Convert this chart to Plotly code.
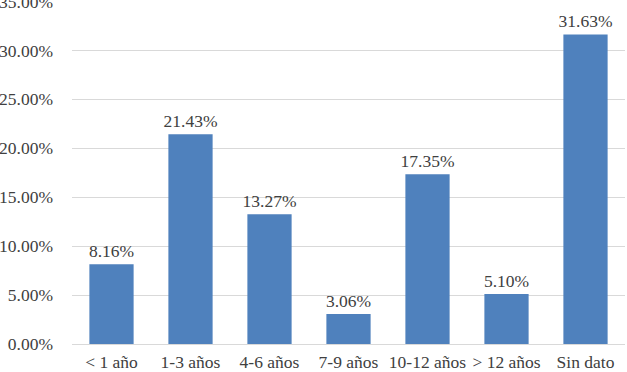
import plotly.graph_objects as go

categories = ["< 1 año", "1-3 años", "4-6 años", "7-9 años", "10-12 años", "> 12 años", "Sin dato"]
values = [8.16, 21.43, 13.27, 3.06, 17.35, 5.10, 31.63]
tick_vals = [0, 5, 10, 15, 20, 25, 30, 35]
tick_text = ["%.2f%%" % v for v in tick_vals]
labels = ["%.2f%%" % v for v in values]

FONT = "Liberation Serif"
FS = 17.5
COL = "#404040"

fig = go.Figure(go.Bar(
    x=categories, y=values, text=labels, textposition="outside",
    constraintext="none",
    marker=dict(color="#4F81BD", line=dict(width=0)),
    textfont=dict(family=FONT, size=FS, color=COL),
    cliponaxis=False,
))
fig.update_layout(
    width=627, height=372,
    margin=dict(l=72, r=2, t=1, b=28),
    paper_bgcolor="white", plot_bgcolor="white",
    bargap=0.44, showlegend=False,
    font=dict(family=FONT, size=FS, color=COL),
    uniformtext=dict(mode=False),
)
fig.update_yaxes(range=[0, 35.05], tickvals=tick_vals, ticktext=tick_text,
                 showgrid=True, gridcolor="#D9D9D9", gridwidth=1,
                 zeroline=False, showline=False, ticks="", ticklabelstandoff=18,
                 ticklabeloverflow="allow", automargin=False,
                 tickfont=dict(family=FONT, size=FS, color=COL))
fig.update_xaxes(showline=True, linecolor="#D9D9D9", linewidth=1, ticks="",
                 automargin=False, ticklabeloverflow="allow", ticklabelstandoff=2,
                 tickfont=dict(family=FONT, size=FS, color=COL))
fig.write_html("out.html")
